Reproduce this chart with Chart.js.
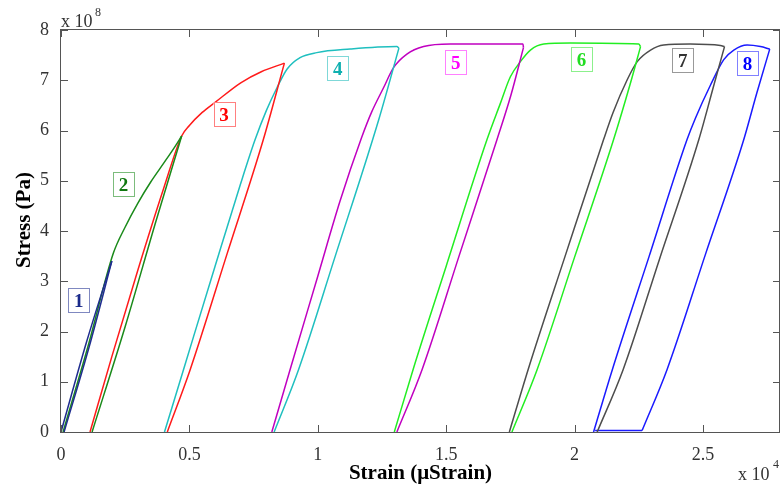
<!DOCTYPE html>
<html>
<head>
<meta charset="utf-8">
<script src="https://cdn.jsdelivr.net/npm/chart.js@4.4.1/dist/chart.umd.min.js"></script>
<style>
  html, body { margin: 0; padding: 0; background: #fff; }
</style>
</head>
<body>
<canvas id="stressChart" width="781" height="492"></canvas>
<script>
// strain in 10^4 µStrain, stress in 10^8 Pa
const strain1 = [0, 0.1, 0.198, 0.11, 0.012];
const stress1 = [0, 1.8, 3.40, 1.7, 0];

const strain2 = [0.008, 0.105, 0.204, 0.25, 0.30, 0.35, 0.40, 0.44, 0.47, 0.37, 0.25, 0.121];
const stress2 = [0, 1.7, 3.56, 4.08, 4.56, 4.98, 5.35, 5.65, 5.89, 4.2, 2.1, 0];

const strain3 = [0.113, 0.198, 0.298, 0.400, 0.47, 0.50, 0.55, 0.60, 0.70, 0.78, 0.870, 0.788, 0.647, 0.503, 0.414];
const stress3 = [0, 1.5, 3.2, 4.85, 5.89, 6.1, 6.36, 6.56, 6.95, 7.17, 7.34, 5.82, 3.55, 1.24, 0];

const strain4 = [0.403, 0.477, 0.60, 0.70, 0.756, 0.80, 0.841, 0.880, 0.931, 0.996, 1.126, 1.308, 1.316, 1.237, 1.068, 0.925, 0.830];
const stress4 = [0, 1.24, 3.3, 4.95, 5.82, 6.4, 6.85, 7.22, 7.45, 7.55, 7.62, 7.67, 7.64, 6.21, 3.5, 1.24, 0];

const strain5 = [0.821, 0.892, 1.0, 1.087, 1.17, 1.21, 1.256, 1.295, 1.347, 1.412, 1.516, 1.799, 1.801, 1.752, 1.698, 1.55, 1.406, 1.308];
const stress5 = [0, 1.24, 3.1, 4.6, 5.85, 6.37, 6.85, 7.25, 7.52, 7.67, 7.72, 7.72, 7.65, 6.7, 5.82, 3.5, 1.24, 0];

const strain6 = [1.298, 1.371, 1.50, 1.659, 1.711, 1.750, 1.789, 1.828, 1.880, 1.984, 2.250, 2.257, 2.218, 2.152, 2.0, 1.854, 1.756];
const stress6 = [0, 1.24, 3.3, 5.82, 6.54, 7.07, 7.37, 7.60, 7.72, 7.74, 7.72, 7.67, 6.95, 5.82, 3.48, 1.24, 0];

const strain7 = [1.746, 1.819, 1.96, 2.113, 2.150, 2.205, 2.244, 2.296, 2.347, 2.45, 2.568, 2.584, 2.545, 2.484, 2.33, 2.189, 2.088];
const stress7 = [0, 1.24, 3.45, 5.82, 6.36, 7.01, 7.37, 7.60, 7.70, 7.72, 7.69, 7.67, 6.95, 5.82, 3.43, 1.24, 0];

const strain8 = [2.074, 2.147, 2.29, 2.438, 2.471, 2.529, 2.581, 2.620, 2.672, 2.724, 2.760, 2.71, 2.659, 2.51, 2.360, 2.263, 2.08];
const stress8 = [0, 1.24, 3.49, 5.82, 6.25, 6.9, 7.41, 7.60, 7.70, 7.67, 7.62, 6.75, 5.82, 3.54, 1.24, 0.03, 0.03];

const loopNames = ['1', '2', '3', '4', '5', '6', '7', '8'];
const labelStrain = [0.069, 0.243, 0.635, 1.078, 1.537, 2.027, 2.421, 2.673];
const labelStress = [2.63, 4.94, 6.32, 7.24, 7.36, 7.42, 7.40, 7.35];

const xTicks = [0, 0.5, 1, 1.5, 2, 2.5];
const yTicks = [0, 1, 2, 3, 4, 5, 6, 7, 8];

const lineColors = ['#1f2d8f', '#1a8a1a', '#ff1a1a', '#1fbfbf', '#c000c0', '#22ee22', '#4d4d4d', '#1a1aff'];
const textColors = ['#1a2a8a', '#107810', '#ff0000', '#10b0b0', '#ff00ff', '#22dd22', '#333333', '#0000ff'];
const boxColors = ['#7f88c0', '#7cbc7c', '#ff8080', '#7fd8d8', '#ff80ff', '#8cf08c', '#999999', '#8080ff'];

const loops = [
    [strain1, stress1], [strain2, stress2], [strain3, stress3], [strain4, stress4],
    [strain5, stress5], [strain6, stress6], [strain7, stress7], [strain8, stress8]
];

const serif = "'Liberation Serif', 'DejaVu Serif', serif";

// cut every loop into branches: loading up to the largest strain, unloading down
// to the lowest stress, and whatever follows along the bottom
const datasets = [];
loops.forEach((loop, i) => {
    const [s, p] = loop;
    const pts = s.map((v, k) => ({ x: v, y: p[k] }));
    const turn = s.indexOf(Math.max(...s));
    const rest = p.slice(turn);
    const low = turn + rest.indexOf(Math.min(...rest));
    const cuts = [...new Set([0, turn, low, s.length - 1])];
    for (let c = 0; c < cuts.length - 1; c++) {
        datasets.push({
            label: loopNames[i],
            data: pts.slice(cuts[c], cuts[c + 1] + 1),
            borderColor: lineColors[i],
            borderWidth: 1.5,
            pointRadius: 0,
            showLine: true,
            fill: false,
            cubicInterpolationMode: 'monotone'
        });
    }
});

// box, inward ticks, loop tags and axis texts (matlab style)
const decor = {
    id: 'decor',
    afterDatasetsDraw(chart) {
        const { ctx, chartArea: a, scales: { x, y } } = chart;
        ctx.save();
        ctx.strokeStyle = '#555';
        ctx.lineWidth = 1;
        ctx.strokeRect(a.left - 0.5, a.top - 0.5, a.right - a.left, a.bottom - a.top + 1);

        ctx.beginPath();
        xTicks.forEach(v => {
            const px = Math.round(x.getPixelForValue(v)) + 0.5;
            ctx.moveTo(px, a.bottom); ctx.lineTo(px, a.bottom - 7);
            ctx.moveTo(px, a.top); ctx.lineTo(px, a.top + 7);
        });
        yTicks.forEach(v => {
            const py = Math.round(y.getPixelForValue(v)) + 0.5;
            ctx.moveTo(a.left, py); ctx.lineTo(a.left + 7, py);
            ctx.moveTo(a.right, py); ctx.lineTo(a.right - 7, py);
        });
        ctx.stroke();

        ctx.font = 'bold 19px ' + serif;
        ctx.textAlign = 'center';
        ctx.textBaseline = 'middle';
        loopNames.forEach((name, i) => {
            const px = x.getPixelForValue(labelStrain[i]);
            const py = y.getPixelForValue(labelStress[i]);
            ctx.fillStyle = '#fff';
            ctx.fillRect(px - 10.5, py - 12, 21, 24);
            ctx.strokeStyle = boxColors[i];
            ctx.strokeRect(Math.round(px - 10.5) + 0.5, Math.round(py - 12) + 0.5, 21, 24);
            ctx.fillStyle = textColors[i];
            ctx.fillText(name, px, py + 2);
        });

        ctx.fillStyle = '#000';
        ctx.font = 'bold 21px ' + serif;
        ctx.fillText('Strain (\u03bcStrain)', (a.left + a.right) / 2, 474);
        ctx.save();
        ctx.translate(25, 220);
        ctx.rotate(-Math.PI / 2);
        ctx.fillText('Stress (Pa)', 0, 0);
        ctx.restore();

        ctx.fillStyle = '#333';
        ctx.textAlign = 'left';
        ctx.textBaseline = 'alphabetic';
        ctx.font = '18px ' + serif;
        ctx.fillText('x 10', 61, 27);
        ctx.fillText('x 10', 738, 480);
        ctx.font = '12px ' + serif;
        ctx.fillText('8', 95, 16);
        ctx.fillText('4', 773, 468);
        ctx.restore();
    }
};

new Chart(
    document.getElementById('stressChart'),
    {
        type: 'scatter',
        data: { datasets: datasets },
        options: {
            responsive: false,
            animation: false,
            devicePixelRatio: 1,
            layout: { padding: { top: 30, right: 1, left: 0, bottom: 0 } },
            plugins: { legend: { display: false }, tooltip: { enabled: false } },
            scales: {
                x: {
                    type: 'linear',
                    min: 0,
                    max: 2.8,
                    afterBuildTicks: s => { s.ticks = xTicks.map(v => ({ value: v })); },
                    afterFit: s => { s.height = 60; },
                    grid: { display: false },
                    border: { display: false },
                    ticks: { color: '#333', font: { family: serif, size: 18 }, padding: 4, maxRotation: 0, callback: v => String(v) }
                },
                y: {
                    type: 'linear',
                    min: 0,
                    max: 8,
                    afterBuildTicks: s => { s.ticks = yTicks.map(v => ({ value: v })); },
                    afterFit: s => { s.width = 61; },
                    grid: { display: false },
                    border: { display: false },
                    ticks: { color: '#333', font: { family: serif, size: 18 }, padding: 4, callback: v => String(v) }
                }
            }
        },
        plugins: [decor]
    }
);
</script>
</body>
</html>
